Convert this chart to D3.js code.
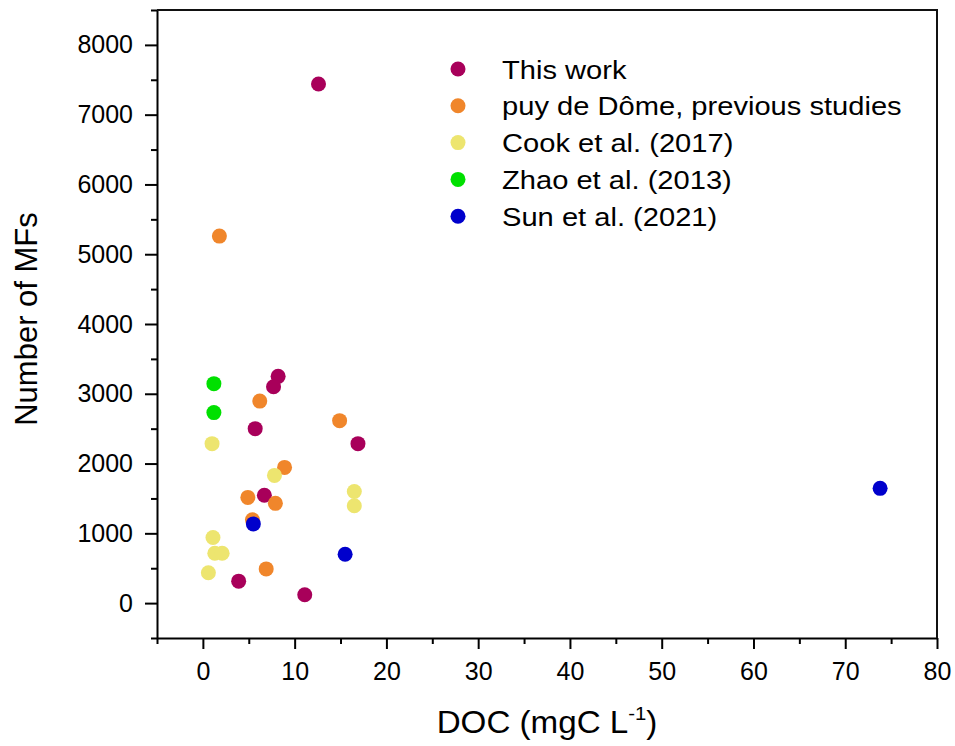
<!DOCTYPE html>
<html>
<head>
<meta charset="utf-8">
<script src="https://cdn.jsdelivr.net/npm/d3@7/dist/d3.min.js"></script>
<style>
  html, body { margin: 0; padding: 0; background: #fff; }
  svg { display: block; font-family: "Liberation Sans", Arial, sans-serif; }
</style>
</head>
<body>
<svg id="chart" width="955" height="746"></svg>
<script>
// ---- Data ----
const seriesNames = ["This work", "puy de Dôme, previous studies", "Cook et al. (2017)", "Zhao et al. (2013)", "Sun et al. (2021)"];
const seriesColors = ["#a8005a", "#f0862b", "#ede56f", "#00e000", "#0000cc"];

const thisWorkX = [12.6, 8.2, 7.7, 5.7, 16.9, 6.7, 3.9, 11.1];
const thisWorkY = [7440, 3250, 3100, 2500, 2285, 1545, 315, 120];

const puyDomeX = [1.8, 6.2, 14.9, 8.9, 4.9, 7.9, 5.4, 6.9];
const puyDomeY = [5260, 2895, 2615, 1945, 1515, 1430, 1195, 490];

const cookX = [1.0, 7.8, 16.5, 16.5, 1.1, 1.3, 2.1, 0.6];
const cookY = [2285, 1830, 1600, 1395, 940, 715, 715, 435];

const zhaoX = [1.2, 1.2];
const zhaoY = [3145, 2730];

const sunX = [5.5, 15.5, 73.8];
const sunY = [1135, 700, 1645];

const xTicks = [0, 10, 20, 30, 40, 50, 60, 70, 80];
const xMinorTicks = [-5, 5, 15, 25, 35, 45, 55, 65, 75];
const yTicks = [0, 1000, 2000, 3000, 4000, 5000, 6000, 7000, 8000];
const yMinorTicks = [-500, 500, 1500, 2500, 3500, 4500, 5500, 6500, 7500, 8500];

const xLabel = "DOC (mgC L";
const xLabelSup = "-1";
const yLabel = "Number of MFs";

// ---- Layout ----
const svg = d3.select("#chart");
const plotLeft = 157, plotRight = 937, plotTop = 10, plotBottom = 638;

const x = d3.scaleLinear().domain([-5, 80]).range([plotLeft, plotRight]);
const y = d3.scaleLinear().domain([-500, 8500]).range([plotBottom, plotTop]);

const tickFont = 25;

// minor ticks
svg.append("g")
  .attr("transform", `translate(0,${plotBottom})`)
  .call(d3.axisBottom(x).tickValues(xMinorTicks).tickSize(6).tickFormat(""))
  .call(g => g.select(".domain").remove())
  .call(g => g.selectAll("line").attr("stroke", "#000").attr("stroke-width", 2));

svg.append("g")
  .attr("transform", `translate(${plotLeft},0)`)
  .call(d3.axisLeft(y).tickValues(yMinorTicks).tickSize(6).tickFormat(""))
  .call(g => g.select(".domain").remove())
  .call(g => g.selectAll("line").attr("stroke", "#000").attr("stroke-width", 2));

// major axes
const gx = svg.append("g")
  .attr("transform", `translate(0,${plotBottom})`)
  .call(d3.axisBottom(x).tickValues(xTicks).tickSize(11).tickSizeOuter(0).tickPadding(13).tickFormat(d3.format("d")));
gx.select(".domain").attr("stroke", "#000").attr("stroke-width", 2);
gx.selectAll("line").attr("stroke", "#000").attr("stroke-width", 2);
gx.selectAll("text").attr("font-size", tickFont).attr("fill", "#000")
  .attr("font-family", "'Liberation Sans', Arial, sans-serif");

const gy = svg.append("g")
  .attr("transform", `translate(${plotLeft},0)`)
  .call(d3.axisLeft(y).tickValues(yTicks).tickSize(12).tickSizeOuter(0).tickPadding(12).tickFormat(d3.format("d")));
gy.select(".domain").attr("stroke", "#000").attr("stroke-width", 2);
gy.selectAll("line").attr("stroke", "#000").attr("stroke-width", 2);
gy.selectAll("text").attr("font-size", tickFont).attr("fill", "#000")
  .attr("font-family", "'Liberation Sans', Arial, sans-serif");

// frame (top + right)
svg.append("path")
  .attr("d", `M${plotLeft},${plotTop}H${plotRight}V${plotBottom}`)
  .attr("fill", "none").attr("stroke", "#111").attr("stroke-width", 2);

// ---- Points ----
const series = [
  { xs: thisWorkX, ys: thisWorkY },
  { xs: puyDomeX, ys: puyDomeY },
  { xs: cookX, ys: cookY },
  { xs: zhaoX, ys: zhaoY },
  { xs: sunX, ys: sunY }
];

series.forEach((s, i) => {
  const pts = s.xs.map((v, j) => [v, s.ys[j]]);
  svg.append("g").selectAll("circle").data(pts).join("circle")
    .attr("cx", d => x(d[0]))
    .attr("cy", d => y(d[1]))
    .attr("r", 7.5)
    .attr("fill", seriesColors[i]);
});

// ---- Legend ----
const legend = svg.append("g").attr("transform", "translate(458,69)");
seriesNames.forEach((name, i) => {
  const row = legend.append("g").attr("transform", `translate(0,${i * 36.8})`);
  row.append("circle").attr("r", 7.5).attr("fill", seriesColors[i]);
  row.append("text").attr("transform", "translate(44,9.5) scale(1.12,1)")
    .attr("font-size", 26).attr("fill", "#000").text(name);
});

// ---- Axis titles ----
const xt = svg.append("text")
  .attr("transform", `translate(${(plotLeft + plotRight) / 2},733) scale(1.07,1)`)
  .attr("text-anchor", "middle").attr("font-size", 31).attr("fill", "#000");
xt.append("tspan").text(xLabel);
xt.append("tspan").attr("font-size", 19).attr("dy", -13).text(xLabelSup);
xt.append("tspan").attr("dy", 13).text(")");

svg.append("text")
  .attr("transform", `translate(37,${(plotTop + plotBottom) / 2 - 5}) rotate(-90)`)
  .attr("text-anchor", "middle").attr("font-size", 31).attr("fill", "#000")
  .text(yLabel);
</script>
</body>
</html>
